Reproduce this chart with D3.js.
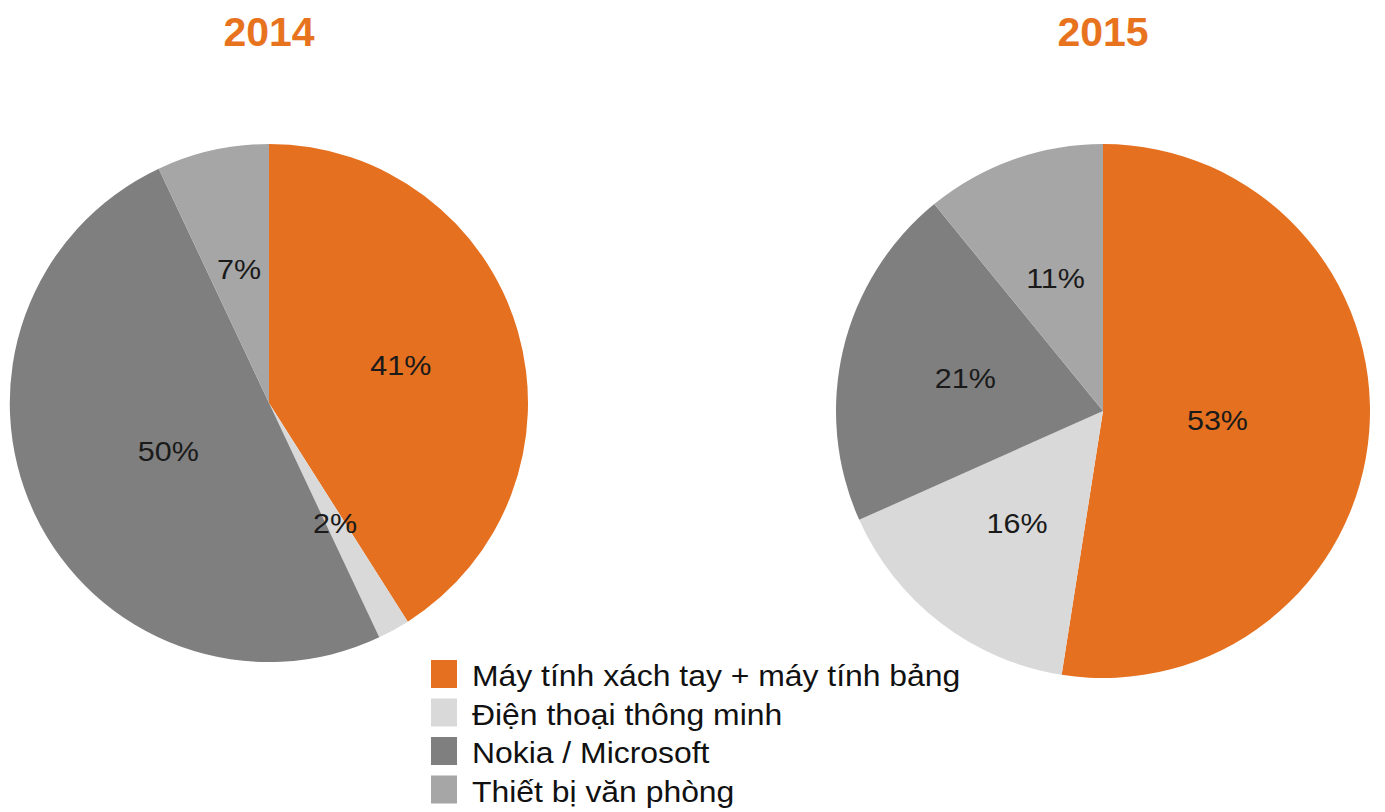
<!DOCTYPE html>
<html>
<head>
<meta charset="utf-8">
<script src="https://cdn.jsdelivr.net/npm/d3@7"></script>
<style>
  html, body { margin: 0; padding: 0; background: #fff; }
  svg { display: block; font-family: "Liberation Sans", Arial, sans-serif; }
</style>
</head>
<body>
<svg id="chart" width="1385" height="812"></svg>
<script>
// Categories (legend order) and yearly shares in percent
const categories = [
  "Máy tính xách tay + máy tính bảng",
  "Điện thoại thông minh",
  "Nokia / Microsoft",
  "Thiết bị văn phòng"
];
const years = ["2014", "2015"];
const values2014 = [41, 2, 50, 7];
const values2015 = [53, 16, 21, 11];

const colors = ["#E5701F", "#D9D9D9", "#7F7F7F", "#A6A6A6"];
const titleColor = "#E8731E";

const svg = d3.select("#chart");
const color = d3.scaleOrdinal().domain(categories).range(colors);

const pies = [
  { year: years[0], values: values2014, cx: 269, cy: 403, r: 259 },
  { year: years[1], values: values2015, cx: 1103, cy: 411, r: 267 }
];

const pie = d3.pie().sort(null).value(d => d.value);

pies.forEach(p => {
  const data = categories.map((c, i) => ({ name: c, value: p.values[i] }));
  const arcs = pie(data);
  const arc = d3.arc().innerRadius(0).outerRadius(p.r);
  // large slices keep their label nearer the centre
  const labelPos = d => {
    const share = (d.endAngle - d.startAngle) / (2 * Math.PI);
    const lr = p.r * (share >= 0.45 ? 0.43 : 0.53);
    return d3.arc().innerRadius(lr).outerRadius(lr).centroid(d);
  };

  const g = svg.append("g").attr("transform", `translate(${p.cx},${p.cy})`);

  g.selectAll("path")
    .data(arcs)
    .join("path")
    .attr("d", arc)
    .attr("fill", d => color(d.data.name));

  g.selectAll("text.lbl")
    .data(arcs)
    .join("text")
    .attr("class", "lbl")
    .attr("transform", d => `translate(${labelPos(d)}) scale(1.09,1)`)
    .attr("text-anchor", "middle")
    .attr("dy", "0.36em")
    .attr("font-size", 28)
    .attr("fill", "#1a1a1a")
    .text(d => d.data.value + "%");

  svg.append("text")
    .attr("x", p.cx)
    .attr("y", 46)
    .attr("text-anchor", "middle")
    .attr("font-size", 41)
    .attr("font-weight", "bold")
    .attr("fill", titleColor)
    .text(p.year);
});

// Legend
const legend = svg.append("g").attr("transform", "translate(431,660)");
const row = legend.selectAll("g")
  .data(categories)
  .join("g")
  .attr("transform", (d, i) => `translate(0,${i * 38.5})`);
row.append("rect")
  .attr("width", 26)
  .attr("height", 28)
  .attr("fill", d => color(d));
row.append("text")
  .attr("transform", "translate(41,16) scale(1.1,1)")
  .attr("dy", "0.36em")
  .attr("font-size", 29)
  .attr("fill", "#111")
  .text(d => d);
</script>
</body>
</html>
